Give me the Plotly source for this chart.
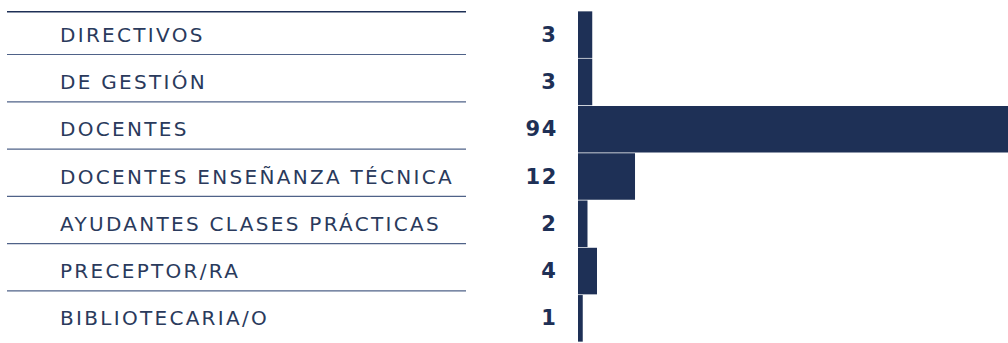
import plotly.graph_objects as go

categorias = ['DIRECTIVOS', 'DE GESTIÓN', 'DOCENTES', 'DOCENTES ENSEÑANZA TÉCNICA',
              'AYUDANTES CLASES PRÁCTICAS', 'PRECEPTOR/RA', 'BIBLIOTECARIA/O']
cantidades = [3, 3, 94, 12, 2, 4, 1]

W, H = 1008, 343
azul = '#1e3056'
posiciones = list(range(len(categorias)))

fig = go.Figure()
fig.add_trace(go.Bar(x=cantidades, y=posiciones, orientation='h',
                     marker=dict(color=azul, line=dict(width=0)),
                     hoverinfo='skip'))

# etiquetas de la tabla izquierda y numeros
for i, (cat, n) in enumerate(zip(categorias, cantidades)):
    fig.add_annotation(x=58 / W, xref='paper', y=i, yref='y', text=cat,
                       showarrow=False, xanchor='left', yanchor='middle', align='left',
                       font=dict(family='DejaVu Sans', size=20, color='#2a3a5c'))
    fig.add_annotation(x=560 / W, xref='paper', y=i, yref='y', text=str(n),
                       showarrow=False, xanchor='right', yanchor='middle', align='right',
                       font=dict(family='DejaVu Sans', size=21, color=azul, weight='bold'))

# linea superior gruesa y separadores
fig.add_shape(type='line', xref='paper', yref='y', x0=7 / W, x1=466 / W,
              y0=-0.5, y1=-0.5, line=dict(color=azul, width=3))
for i in range(len(categorias) - 1):
    fig.add_shape(type='line', xref='paper', yref='y', x0=7 / W, x1=466 / W,
                  y0=i + 0.42, y1=i + 0.42, line=dict(color='#4f6288', width=1.2))

fig.update_layout(
    width=W, height=H,
    margin=dict(l=0, r=0, t=11, b=1),
    paper_bgcolor='white', plot_bgcolor='white',
    showlegend=False, bargap=0.015,
    xaxis=dict(domain=[578 / W, 1], range=[0, 90.5], visible=False, fixedrange=True),
    yaxis=dict(range=[6.5, -0.5], visible=False, fixedrange=True),
)

# sin margen del body y con espaciado de letras como en el original
js = """
document.body.style.margin = '0';
document.body.style.overflow = 'hidden';
var t = document.querySelectorAll('.annotation-text');
t.forEach(function (e) {
  var s = e.textContent;
  if (isNaN(Number(s))) { e.style.letterSpacing = '2.3px'; }
  else { e.style.letterSpacing = '1.8px'; }
});
"""
fig.write_html('out.html', config={'displayModeBar': False}, post_script=js)
